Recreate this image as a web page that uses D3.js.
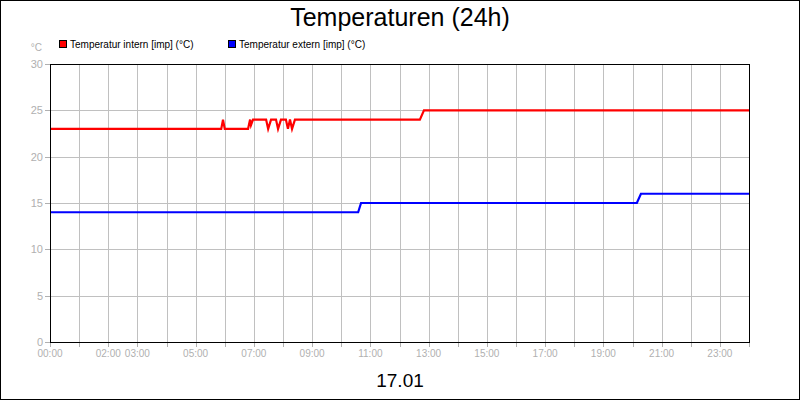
<!DOCTYPE html>
<html>
<head>
<script src="https://cdnjs.cloudflare.com/ajax/libs/d3/7.8.5/d3.min.js"></script>
<style>
  body { margin: 0; background: #fff; }
  svg { display: block; font-family: "Liberation Sans", Arial, sans-serif; }
</style>
</head>
<body>
<div id="chart"></div>
<script>
  // hours of day, degrees C
  var internHours  = [0, 5.88, 5.94, 6.0, 6.80, 6.87, 6.90, 6.97, 7.42, 7.49, 7.59, 7.76, 7.83, 7.93, 8.10, 8.17, 8.24, 8.31, 8.41, 12.70, 12.84, 24];
  var internValues = [23, 23,  24,   23,  23,   24,   23.4, 24,   24,   23,   24,   24,   23,   24,   24,   23,   24,   23,   24,   24,    25,    25];
  var externHours  = [0, 10.58, 10.68, 20.15, 20.29, 24];
  var externValues = [14, 14,   15,    15,    16,    16];
  var yTicks = [0, 5, 10, 15, 20, 25, 30];
  var xLabels = ["00:00", "02:00", "03:00", "05:00", "07:00", "09:00", "11:00", "13:00", "15:00", "17:00", "19:00", "21:00", "23:00"];
  var seriesNames = ["Temperatur intern [imp] (°C)", "Temperatur extern [imp] (°C)"];
  var seriesColors = ["#ff0000", "#0000ff"];

  var W = 800, H = 400;
  var svg = d3.select("#chart").append("svg").attr("width", W).attr("height", H);
  svg.append("rect").attr("x", 0.5).attr("y", 0.5).attr("width", W - 1).attr("height", H - 1)
    .attr("fill", "#fff").attr("stroke", "#000");

  var x = d3.scaleLinear().domain([0, 24]).range([50, 749]);
  var y = d3.scaleLinear().domain([0, 30]).range([342, 64]);

  // grid
  svg.append("g").selectAll("line").data(d3.range(1, 24)).join("line")
    .attr("x1", d => Math.round(x(d)) + 0.5).attr("x2", d => Math.round(x(d)) + 0.5)
    .attr("y1", 64).attr("y2", 342).attr("stroke", "#c0c0c0");
  svg.append("g").selectAll("line").data(yTicks.slice(1, -1)).join("line")
    .attr("x1", 50).attr("x2", 749)
    .attr("y1", d => Math.round(y(d)) + 0.5).attr("y2", d => Math.round(y(d)) + 0.5).attr("stroke", "#c0c0c0");

  // y labels
  svg.append("g").selectAll("text").data(yTicks).join("text")
    .attr("x", 43).attr("y", d => y(d) + 4).attr("text-anchor", "end")
    .attr("font-size", 11).attr("fill", "#b0b0b0").text(d => d);
  svg.append("g").selectAll("line").data(yTicks).join("line")
    .attr("x1", 45).attr("x2", 50).attr("y1", d => Math.round(y(d)) + 0.5).attr("y2", d => Math.round(y(d)) + 0.5)
    .attr("stroke", "#b0b0b0");
  svg.append("text").attr("x", 42).attr("y", 51).attr("text-anchor", "end")
    .attr("font-size", 10).attr("fill", "#b0b0b0").text("°C");

  // x ticks + labels
  svg.append("g").selectAll("line").data(d3.range(0, 25)).join("line")
    .attr("x1", d => Math.round(x(d)) + 0.5).attr("x2", d => Math.round(x(d)) + 0.5)
    .attr("y1", 342).attr("y2", 347).attr("stroke", "#b0b0b0");
  svg.append("g").selectAll("text").data(xLabels).join("text")
    .attr("x", d => x(+d.slice(0, 2))).attr("y", 357).attr("text-anchor", "middle")
    .attr("font-size", 10).attr("fill", "#b0b0b0").text(d => d);

  // lines
  var line = d3.line().x(d => x(d[0])).y(d => y(d[1]));
  [[internHours, internValues], [externHours, externValues]].forEach(function(s, i) {
    svg.append("path").datum(d3.zip(s[0], s[1])).attr("d", line)
      .attr("fill", "none").attr("stroke", seriesColors[i]).attr("stroke-width", 2.2);
  });

  // frame
  svg.append("rect").attr("x", 50.5).attr("y", 64.5).attr("width", 699).attr("height", 278)
    .attr("fill", "none").attr("stroke", "#000");

  // legend
  var legX = [59, 228];
  seriesNames.forEach(function(n, i) {
    svg.append("rect").attr("x", legX[i] + 0.5).attr("y", 40.5).attr("width", 7).attr("height", 7)
      .attr("fill", seriesColors[i]).attr("stroke", "#000");
    svg.append("text").attr("x", legX[i] + 11).attr("y", 48).attr("font-size", 10).text(n);
  });

  svg.append("text").attr("x", 400).attr("y", 26).attr("text-anchor", "middle")
    .attr("font-size", 25).text("Temperaturen (24h)");
  svg.append("text").attr("x", 400).attr("y", 387).attr("text-anchor", "middle")
    .attr("font-size", 19).text("17.01");
</script>
</body>
</html>
